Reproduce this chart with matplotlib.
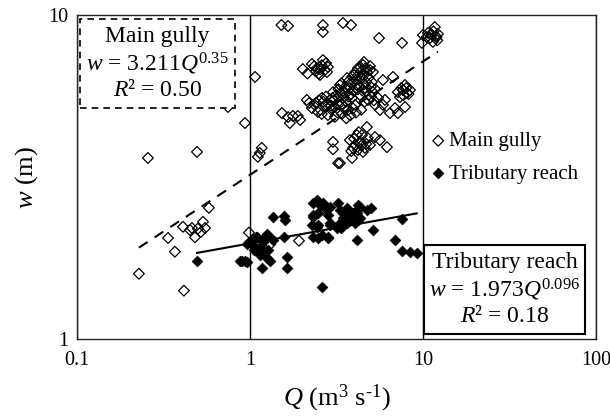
import numpy as np
import matplotlib
matplotlib.use('Agg')
import matplotlib.pyplot as plt
from matplotlib.patches import Rectangle
from matplotlib.ticker import FixedLocator, FixedFormatter, NullLocator

plt.rcParams['font.family'] = ['Liberation Serif', 'DejaVu Serif']
plt.rcParams['mathtext.fontset'] = 'custom'
plt.rcParams['mathtext.rm'] = 'Liberation Serif'
plt.rcParams['mathtext.it'] = 'Liberation Serif:italic'

# ---- data (Q in m3/s, w in m) ----
main_Q = [0.228, 0.415, 0.368, 0.336, 0.579, 0.41, 0.45, 0.481, 0.50, 0.535, 0.55, 0.52, 0.462,
          0.257, 0.494, 0.746, 0.935, 1.07,
          0.987, 1.31, 1.92,
          1.17, 1.14, 1.11,
          1.53, 1.66, 1.77, 1.70, 1.89, 1.95,
          1.52, 1.66, 2.64, 2.64, 3.45, 3.84,
          2.02, 2.28, 2.44, 2.64, 2.79, 2.54, 2.82, 2.50, 2.70, 2.60,
          5.57, 7.57, 9.87,
          10.0, 10.7, 11.4, 11.7, 12.0, 12.2, 11.0, 11.8, 11.5, 12.1,
          3.02, 3.02, 3.23, 3.89, 3.31,
          4.15, 4.74, 5.28, 5.64, 6.19, 3.78, 4.05, 4.32, 4.62, 4.94, 4.21, 4.50, 3.94, 4.80, 4.44,
          2.13, 2.28, 2.41, 2.47, 2.61, 2.72, 2.82, 2.90, 3.02, 3.10, 3.23, 3.31, 3.40, 3.53, 3.64,
          3.68, 3.78, 3.89, 3.99, 4.05, 4.15, 4.21, 4.32, 4.44, 4.56, 4.62, 4.74, 4.81, 4.94, 5.07,
          5.14, 5.28, 5.50, 5.64, 5.87, 6.03, 6.44, 6.89, 7.16, 7.87,
          4.50, 4.94, 5.14, 5.87, 6.71,
          7.66, 8.09, 8.41, 7.36, 7.87, 7.16,
          2.35, 2.55, 2.65, 2.95, 3.05, 3.15, 3.35, 3.45, 3.60, 3.70, 3.85, 4.00, 4.10, 4.25, 4.40,
          4.55, 4.70, 4.85, 5.00, 5.20, 3.20, 3.50, 3.95, 4.60,
          3.10, 3.40, 3.60, 3.80, 4.10, 4.40,
          2.20, 2.50, 2.75, 2.85, 3.00, 3.25, 3.38, 3.55, 3.72, 3.90, 4.05, 4.20, 4.35, 4.48, 4.65,
          3.60, 3.85, 4.20, 4.45, 4.70, 5.00, 5.30, 2.60, 2.95, 3.25,
          2.15, 2.35, 2.55, 2.75, 2.40,
          7.50, 8.00, 8.25, 7.70,
          11.2, 10.5,
          4.00, 4.40, 4.70, 3.85, 4.25]
main_w = [1.59, 1.41, 1.86, 2.05, 2.54, 2.22, 2.17, 2.06, 2.19, 2.30, 2.20, 2.14, 2.20,
          3.62, 3.78, 5.20, 4.64, 6.44,
          2.13, 1.96, 2.01,
          3.89, 3.75, 3.65,
          4.98, 4.84, 4.88, 4.64, 4.88, 4.74,
          9.31, 9.25, 9.31, 8.86, 9.45, 9.31,
          6.81, 7.06, 6.86, 7.26, 6.67, 6.53, 6.91, 6.60, 6.75, 7.00,
          8.49, 8.20, 8.20,
          8.67, 8.80, 8.26, 9.18, 8.55, 8.74, 8.50, 8.60, 8.90, 8.35,
          4.06, 3.85, 3.49, 3.62, 3.49,
          4.26, 4.51, 4.20, 4.11, 3.91, 4.11, 3.97, 4.05, 3.89, 3.97, 3.83, 3.78, 3.89, 4.17, 4.26,
          5.47, 5.16, 5.35, 5.02, 5.55, 5.24, 4.91, 5.47, 5.78, 5.20, 5.58, 6.08, 5.31, 5.78, 6.39,
          5.09, 5.95, 5.55, 6.53, 5.28, 6.08, 6.86, 5.66, 6.39, 7.16, 5.95, 6.67, 5.47, 6.96, 6.21,
          5.78, 5.28, 5.55, 5.09, 5.28, 5.47, 4.98, 5.16, 4.98, 5.20,
          7.01, 6.76, 6.67, 6.30, 6.44,
          5.87, 5.74, 5.87, 5.58, 6.08, 5.78,
          5.30, 5.10, 5.40, 5.10, 5.45, 5.65, 5.75, 5.55, 5.95, 5.60, 6.20, 5.85, 6.30, 6.00, 6.70,
          6.10, 5.80, 6.40, 5.60, 5.45, 5.00, 5.20, 5.15, 5.40,
          4.85, 4.95, 4.80, 4.90, 5.00, 5.10,
          5.35, 5.45, 5.60, 5.30, 5.55, 5.90, 6.15, 6.00, 6.25, 6.45, 6.65, 6.50, 6.90, 6.55, 6.85,
          5.40, 5.70, 5.90, 5.85, 6.20, 6.00, 5.90, 4.95, 5.25, 5.30,
          6.60, 6.95, 6.80, 7.10, 6.70,
          5.95, 5.95, 5.70, 5.65,
          8.70, 8.55,
          4.15, 3.95, 4.00, 3.80, 4.35]

trib_Q = [0.494,
          0.90, 0.962, 0.875, 0.93,
          0.987, 1.04, 1.10, 1.07, 1.19, 1.25, 1.14, 1.27, 1.36, 1.25, 1.17,
          0.96, 1.03, 1.09, 1.19, 1.14, 1.25, 1.05, 1.14,
          1.31,
          1.36, 1.57, 1.59,
          1.57,
          1.64, 1.64,
          2.61,
          2.44, 2.64, 2.90, 2.31, 2.47, 2.90, 2.31, 2.47, 2.82, 3.23, 3.66, 3.94, 4.21, 4.15,
          2.31, 2.54, 2.72, 2.47, 2.31, 2.82, 2.28, 2.44, 2.61, 2.82, 2.90, 3.31, 3.45, 3.78, 3.94,
          4.21, 4.15, 3.66, 4.74, 3.18, 3.31,
          3.45, 3.78, 4.05, 4.32, 4.05, 4.32, 5.00, 3.38,
          5.14, 6.89, 7.60, 8.41, 9.20, 7.57]
trib_w = [1.74,
          1.74, 1.73, 1.74, 1.74,
          1.99, 2.04, 2.06, 1.92, 1.99, 2.09, 1.84, 1.88, 2.02, 1.78, 1.66,
          1.96, 2.02, 2.06, 2.04, 1.92, 2.11, 1.88, 1.82,
          1.74,
          2.38, 2.40, 2.33,
          2.06,
          1.79, 1.66,
          1.45,
          2.69, 2.63, 2.56, 2.41, 2.25, 2.25, 2.06, 2.05, 2.05, 2.63, 2.54, 2.45, 2.33, 2.02,
          2.63, 2.59, 2.54, 2.45, 2.38, 2.41, 2.25, 2.22, 2.09, 2.06, 2.28, 2.50, 2.36, 2.45, 2.33,
          2.59, 2.45, 2.28, 2.50, 2.20, 2.28,
          2.45, 2.38, 2.47, 2.56, 2.28, 2.36, 2.54, 2.20,
          2.17, 2.02, 1.87, 1.86, 1.84, 2.34]

main_fit = (3.211, 0.35)
trib_fit = (1.973, 0.096)

x_ticks = [0.1, 1, 10, 100]
x_tick_labels = ['0.1', '1', '10', '100']
y_ticks = [1, 10]
y_tick_labels = ['1', '10']

fig = plt.figure(figsize=(6.1, 4.18), dpi=100)
ax = fig.add_axes([0.1262, 0.189, 0.8508, 0.7751])
ax.set_xscale('log')
ax.set_yscale('log')
ax.set_xlim(0.1, 100)
ax.set_ylim(1, 10)

ax.xaxis.set_major_locator(FixedLocator(x_ticks))
ax.xaxis.set_major_formatter(FixedFormatter(x_tick_labels))
ax.xaxis.set_minor_locator(NullLocator())
ax.yaxis.set_major_locator(FixedLocator(y_ticks))
ax.yaxis.set_major_formatter(FixedFormatter(y_tick_labels))
ax.yaxis.set_minor_locator(NullLocator())
ax.tick_params(axis='both', length=0, labelsize=14.5)
ax.tick_params(axis='x', pad=9)
ax.tick_params(axis='y', pad=6)
ax.xaxis.grid(True, color='black', linewidth=1.0)
ax.set_axisbelow(True)
for s in ax.spines.values():
    s.set_linewidth(1.0)
    s.set_color('#222222')

ax.scatter(main_Q, main_w, marker='D', s=30, facecolors='none', edgecolors='black',
           linewidths=0.9, label='Main gully', zorder=3)
ax.scatter(trib_Q, trib_w, marker='D', s=30, facecolors='black', edgecolors='black',
           linewidths=0.5, label='Tributary reach', zorder=4)

qm = np.geomspace(min(main_Q), max(main_Q), 50)
ax.plot(qm, main_fit[0] * qm ** main_fit[1], color='black', linestyle=(0, (5, 4)),
        linewidth=1.5, zorder=5)
qt = np.geomspace(min(trib_Q), max(trib_Q), 50)
ax.plot(qt, trib_fit[0] * qt ** trib_fit[1], color='black', linestyle='-',
        linewidth=1.5, zorder=5)

ax.set_xlabel(r'$Q$ (m$^3$ s$^{\text{-}1}$)', fontsize=19, labelpad=9)
ax.set_ylabel('$w$ (m)', fontsize=19, labelpad=6)

leg = ax.legend(loc='upper left', bbox_to_anchor=(0.684, 0.640), frameon=False,
                fontsize=15, handlelength=0.6, handletextpad=0.2, borderpad=0,
                borderaxespad=0, labelspacing=0.62, scatterpoints=1)

# text boxes
ax.add_patch(Rectangle((0.006, 0.713), 0.298, 0.275, transform=ax.transAxes,
                       facecolor='white', edgecolor='black', linestyle=(0, (4, 3)),
                       linewidth=1.2, zorder=6))
ax.text(0.155, 0.850, 'Main gully\n$w$ = 3.211$Q^{0.35}$\n$R$² = 0.50', transform=ax.transAxes,
        ha='center', va='center', fontsize=17, linespacing=1.2, zorder=7)

ax.add_patch(Rectangle((0.669, 0.015), 0.310, 0.275, transform=ax.transAxes,
                       facecolor='white', edgecolor='black', linewidth=1.5, zorder=6))
ax.text(0.824, 0.153, 'Tributary reach\n$w$ = 1.973$Q^{0.096}$\n$R$² = 0.18', transform=ax.transAxes,
        ha='center', va='center', fontsize=17, linespacing=1.2, zorder=7)

fig.savefig('out.png', dpi=100)
